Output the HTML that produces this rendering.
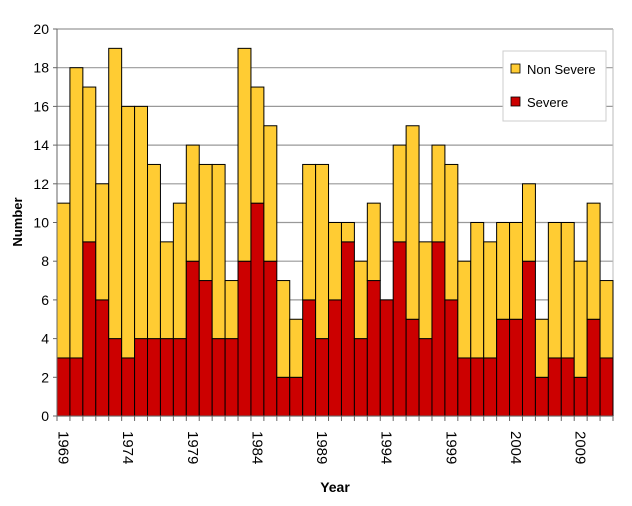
<!DOCTYPE html>
<html><head><meta charset="utf-8"><style>
body{margin:0;background:#fff;}
svg{display:block;font-family:"Liberation Sans",Arial,sans-serif;}
</style></head><body>
<svg id="chart" width="632" height="506">
<g id="grid"></g>
<g id="bars"></g>
<g id="axes"></g>
<text x="22" y="222" transform="rotate(-90 22 222)" text-anchor="middle" font-size="13" font-weight="bold">Number</text>
<text x="335" y="492" text-anchor="middle" font-size="14" font-weight="bold">Year</text>
<g>
<rect x="503" y="51" width="103" height="70" fill="#fff" stroke="#ccc"/>
<rect x="511" y="64" width="9" height="9" fill="#ffcc33" stroke="#000" stroke-width="0.8"/>
<text x="527" y="74" font-size="13">Non Severe</text>
<rect x="511" y="97" width="9" height="9" fill="#cc0000" stroke="#000" stroke-width="0.8"/>
<text x="527" y="107" font-size="13">Severe</text>
</g>
</svg>
<script>
const years=[1969,1970,1971,1972,1973,1974,1975,1976,1977,1978,1979,1980,1981,1982,1983,1984,1985,1986,1987,1988,1989,1990,1991,1992,1993,1994,1995,1996,1997,1998,1999,2000,2001,2002,2003,2004,2005,2006,2007,2008,2009,2010,2011];
const totals=[11,18,17,12,19,16,16,13,9,11,14,13,13,7,19,17,15,7,5,13,13,10,10,8,11,6,14,15,9,14,13,8,10,9,10,10,12,5,10,10,8,11,7];
const severe=[3,3,9,6,4,3,4,4,4,4,8,7,4,4,8,11,8,2,2,6,4,6,9,4,7,6,9,5,4,9,6,3,3,3,5,5,8,2,3,3,2,5,3];
const yTicks=[0,2,4,6,8,10,12,14,16,18,20];
const L=57,R=613,T=29,B=416,maxV=20;
const NS="http://www.w3.org/2000/svg";
const bw=(R-L)/years.length;
const x=i=>L+i*bw;
const y=v=>B-(v/maxV)*(B-T);
function mk(tag,at,parent){const e=document.createElementNS(NS,tag);for(const k in at)e.setAttribute(k,at[k]);parent.appendChild(e);return e;}
const grid=document.getElementById('grid'),bars=document.getElementById('bars'),axes=document.getElementById('axes');
yTicks.forEach(t=>{
  const g=mk('line',{x1:L,x2:R,y1:y(t),y2:y(t),stroke:'#999','stroke-width':1.2},grid);
  
  
  const tk=mk('line',{x1:L-4,x2:L,y1:y(t),y2:y(t),stroke:'#666'},axes);
  
  
  const tx=mk('text',{x:L-8,y:y(t)+5,'text-anchor':'end','font-size':14},axes);
  tx.textContent=t;
  
  
});
mk('line',{x1:R,x2:R,y1:T,y2:B,stroke:'#bbb'},grid);
years.forEach((yr,i)=>{
  const s=mk('rect',{x:x(i),y:y(severe[i]),width:bw,height:B-y(severe[i]),fill:'#cc0000',stroke:'#000','stroke-width':1},bars);
  
  
  const n=mk('rect',{x:x(i),y:y(totals[i]),width:bw,height:y(severe[i])-y(totals[i]),fill:'#ffcc33',stroke:'#000','stroke-width':1},bars);
  
  
  const tk=mk('line',{x1:x(i),x2:x(i),y1:B,y2:B+5,stroke:'#666'},axes);
  
  
  if((yr-1969)%5===0){
    const cx=x(i)+bw/2-5, cy=B+15;
    const tx=mk('text',{x:cx,y:cy,'text-anchor':'start','font-size':15,transform:`rotate(90 ${cx} ${cy})`},axes);
    tx.textContent=yr;
    
    
  }
});
mk('line',{x1:R,x2:R,y1:B,y2:B+5,stroke:'#666'},axes);
mk('line',{x1:L,x2:L,y1:T,y2:B,stroke:'#666'},axes);
mk('line',{x1:L,x2:R,y1:B,y2:B,stroke:'#666'},axes);
</script>
</body></html>
